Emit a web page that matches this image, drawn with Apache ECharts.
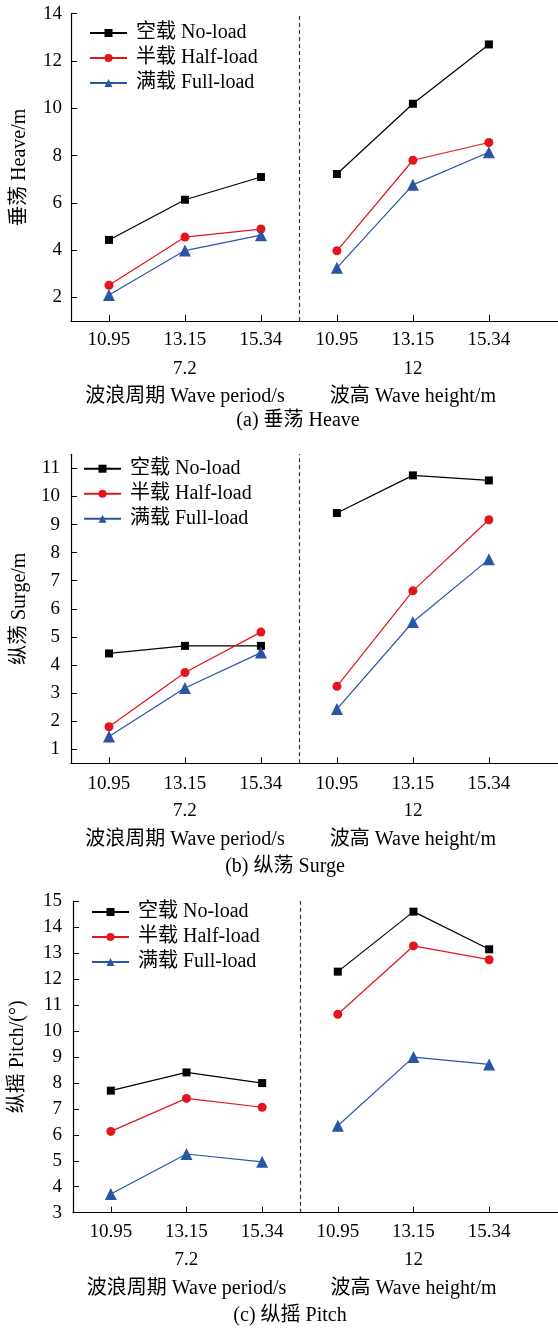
<!DOCTYPE html>
<html><head><meta charset="utf-8">
<script src="https://cdn.jsdelivr.net/npm/echarts@6/dist/echarts.min.js"></script>
<style>html,body{margin:0;padding:0;background:#fff}#c{width:558px;height:1331px}</style>
</head><body><div id="c"></div>
<script>
// ---- data ----
const categories = ['10.95','13.15','15.34','10.95','13.15','15.34'];
const groupLabels = ['7.2','12'];
const groupNames = ['波浪周期 Wave period/s','波高 Wave height/m'];
const loadNames = ['空载 No-load','半载 Half-load','满载 Full-load'];
const panelTitles = ['(a) 垂荡 Heave','(b) 纵荡 Surge','(c) 纵摇 Pitch'];
const yNames = ['垂荡 Heave/m','纵荡 Surge/m','纵摇 Pitch/(°)'];
const heaveNoLoad   = [4.43, 6.13, 7.09, 7.22, 10.19, 12.70];
const heaveHalfLoad = [2.51, 4.55, 4.89, 3.97, 7.80, 8.55];
const heaveFullLoad = [2.10, 3.98, 4.63, 3.25, 6.76, 8.14];
const surgeNoLoad   = [4.41, 4.68, 4.68, 9.41, 10.75, 10.57];
const surgeHalfLoad = [1.80, 3.73, 5.17, 3.24, 6.64, 9.17];
const surgeFullLoad = [1.45, 3.18, 4.44, 2.43, 5.53, 7.76];
const pitchNoLoad   = [7.70, 8.40, 7.99, 12.28, 14.59, 13.14];
const pitchHalfLoad = [6.13, 7.40, 7.06, 10.64, 13.27, 12.74];
const pitchFullLoad = [3.72, 5.26, 4.96, 6.35, 8.99, 8.71];
const heaveTicks = [2,4,6,8,10,12,14];
const surgeTicks = [1,2,3,4,5,6,7,8,9,10,11];
const pitchTicks = [3,4,5,6,7,8,9,10,11,12,13,14,15];

// ---- layout ----
const panels = [
  {data:[heaveNoLoad,heaveHalfLoad,heaveFullLoad], ticks:heaveTicks, min:1, max:14,
   top:13.7, bottom:321, lab:10, off1:29, off2:56, ymargin:9, yGap:41,
   legend:{left:89, top:23}, title:[298,421]},
  {data:[surgeNoLoad,surgeHalfLoad,surgeFullLoad], ticks:surgeTicks, min:0.5, max:11.5,
   top:454.3, bottom:763.3, lab:11, off1:27, off2:55, ymargin:11, yGap:39,
   legend:{left:83, top:458.7}, title:[285,867]},
  {data:[pitchNoLoad,pitchHalfLoad,pitchFullLoad], ticks:pitchTicks, min:3, max:15,
   top:901, bottom:1212.7, lab:10, off1:28, off2:56, ymargin:11, yGap:45,
   legend:{left:91, top:902}, title:[290,1316]}
];
const xPos = [0.5,1.5,2.5,3.5,4.5,5.5];
const colors = ['#000000','#e3141c','#2a55a5'];
const symbols = ['rect','circle','triangle'];
const symSizes = [8,9,12];
const FONT = "'Liberation Serif','Times New Roman','Noto Sans CJK SC',serif";

const grid=[], xAxis=[], yAxis=[], series=[], legend=[], graphic=[];
panels.forEach((p,i)=>{
  grid.push({left:71, right:0, top:p.top, height:p.bottom-p.top});
  const base = {gridIndex:i, type:'value', min:0, max:6.41, position:'bottom', splitLine:{show:false}};
  xAxis.push(Object.assign({}, base, {
    axisLine:{show:true, onZero:false, lineStyle:{color:'#000', width:1.2}},
    axisTick:{show:true, inside:true, length:6, customValues:xPos, lineStyle:{color:'#000'}},
    axisLabel:{customValues:xPos, margin:p.lab, color:'#000', fontSize:19, fontFamily:FONT,
      formatter:v=>categories[Math.round(v-0.5)]}
  }));
  xAxis.push(Object.assign({}, base, {offset:p.off1,
    axisLine:{show:false}, axisTick:{show:false},
    axisLabel:{customValues:[1.5,4.5], margin:p.lab, color:'#000', fontSize:19, fontFamily:FONT,
      formatter:v=>groupLabels[v<3?0:1]}
  }));
  xAxis.push(Object.assign({}, base, {offset:p.off2,
    axisLine:{show:false}, axisTick:{show:false},
    axisLabel:{customValues:[1.5,4.5], margin:p.lab, color:'#000', fontSize:20, fontFamily:FONT,
      formatter:v=>groupNames[v<3?0:1]}
  }));
  yAxis.push({gridIndex:i, type:'value', min:p.min, max:p.max, splitLine:{show:false},
    name:yNames[i], nameLocation:'middle', nameGap:p.yGap, nameRotate:90,
    nameTextStyle:{color:'#000', fontSize:20, fontFamily:FONT},
    axisLine:{show:true, onZero:false, lineStyle:{color:'#000', width:1.2}},
    axisTick:{show:true, inside:true, length:6, customValues:p.ticks, lineStyle:{color:'#000'}},
    axisLabel:{customValues:p.ticks, margin:p.ymargin, color:'#000', fontSize:19, fontFamily:FONT}
  });
  p.data.forEach((vals,l)=>{
    [0,3].forEach(s=>{
      const d = [0,1,2].map(k=>[xPos[s+k], vals[s+k]]);
      const ser = {type:'line', name:loadNames[l], xAxisIndex:i*3, yAxisIndex:i, data:d,
        symbol:symbols[l], symbolSize:symSizes[l], color:colors[l],
        lineStyle:{width:1.2, color:colors[l]}, itemStyle:{color:colors[l]}, z:3, animation:false};
      if(l===0 && s===0){
        ser.markLine = {silent:true, symbol:'none', label:{show:false},
          lineStyle:{type:[4,3], color:'#333', width:1.2}, data:[{xAxis:3}]};
      }
      series.push(ser);
    });
  });
  legend.push({left:p.legend.left, top:p.legend.top, orient:'vertical', padding:0,
    itemWidth:37, itemHeight:10, itemGap:5, data:loadNames, selectedMode:false,
    textStyle:{color:'#000', fontSize:20, fontFamily:FONT, padding:[0,0,0,4]}});
  graphic.push({type:'text', x:p.title[0], y:p.title[1],
    style:{text:panelTitles[i], fill:'#000', font:'20px '+FONT, textAlign:'center', textVerticalAlign:'middle'}});
});

const chart = echarts.init(document.getElementById('c'));
chart.setOption({animation:false, grid, xAxis, yAxis, series, legend, graphic});
</script></body></html>
